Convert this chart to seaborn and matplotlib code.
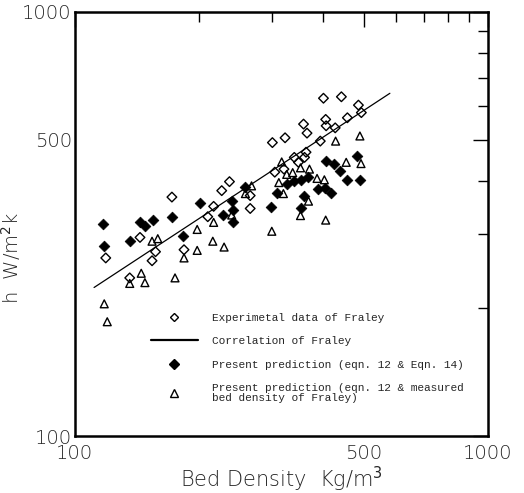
import matplotlib
matplotlib.use("Agg")
import matplotlib.pyplot as plt
import matplotlib.ticker as mticker
from matplotlib.lines import Line2D
import seaborn as sns

# Experimental data of Fraley (open diamonds)
exp_density = [400, 442, 486, 494, 457, 405, 406, 427, 358, 365, 323, 301, 393, 363, 360, 348,
               340, 305, 321, 237, 227, 266, 266, 172, 217, 210, 144, 119, 157, 154, 184, 136]
exp_h = [626, 631, 603, 579, 563, 558, 539, 533, 544, 518, 505, 492, 496, 467, 454, 442,
         454, 419, 426, 398, 379, 369, 344, 366, 348, 329, 294, 263, 272, 259, 275, 236]

# Present prediction, eqn. 12 & measured bed density (open triangles)
tri_density = [428, 490, 493, 454, 317, 326, 337, 352, 370, 386, 402, 312, 320, 268, 259, 368, 352,
               405, 300, 240, 217, 198, 216, 230, 198, 184, 159, 154, 145, 148, 136, 175, 118, 120]
tri_h = [496, 510, 439, 442, 443, 414, 418, 429, 426, 405, 402, 396, 373, 389, 373, 358, 331,
         323, 304, 332, 319, 307, 288, 279, 274, 263, 292, 288, 242, 230, 229, 236, 205, 186]

# Present prediction, eqn. 12 & eqn. 14 (filled diamonds)
pred_density = [405, 424, 439, 482, 457, 489, 368, 352, 339, 327, 389, 403, 416, 309, 359, 259,
                298, 352, 240, 242, 242, 229, 201, 183, 172, 155, 148, 144, 136, 117, 118]
pred_h = [445, 439, 421, 458, 402, 402, 408, 402, 399, 394, 382, 385, 375, 374, 368, 387,
          347, 344, 358, 342, 319, 332, 355, 297, 329, 324, 312, 320, 289, 316, 281]

# Correlation of Fraley (end points)
corr_density = [111.5, 579]
corr_h = [224, 643]

major_ticks = [100, 500, 1000]
minor_ticks = [200, 300, 400, 600, 700, 800, 900]
tick_labels = ["100", "500", "1000"]

sns.set_style("white")
plt.rcParams["font.family"] = ["DejaVu Sans"]

fig = plt.figure(figsize=(5.24, 4.93), dpi=100)
ax = fig.add_axes([0.1422, 0.1156, 0.7891, 0.8601])

sns.lineplot(x=corr_density, y=corr_h, color="black", linewidth=0.9, ax=ax)
sns.scatterplot(x=exp_density, y=exp_h, marker="D", s=24, facecolor="none",
                edgecolor="black", linewidth=1.0, ax=ax)
sns.scatterplot(x=pred_density, y=pred_h, marker="D", s=30, color="black",
                edgecolor="black", linewidth=0.5, ax=ax)
sns.scatterplot(x=tri_density, y=tri_h, marker="^", s=32, facecolor="none",
                edgecolor="black", linewidth=1.0, ax=ax)

ax.set_xscale("log")
ax.set_yscale("log")
ax.set_xlim(100, 1000)
ax.set_ylim(100, 1000)

for axis in [ax.xaxis, ax.yaxis]:
    axis.set_major_locator(mticker.FixedLocator(major_ticks))
    axis.set_major_formatter(mticker.FixedFormatter(tick_labels))
    axis.set_minor_locator(mticker.FixedLocator(minor_ticks))
    axis.set_minor_formatter(mticker.NullFormatter())

ax.tick_params(which="both", direction="in", top=True, right=True, color="black")
ax.tick_params(which="major", length=11, width=1.0, labelsize=14)
ax.tick_params(which="minor", length=7, width=1.0)
ax.tick_params(axis="y", which="major", pad=2)
ax.tick_params(axis="x", which="major", pad=6)
for lab in ax.get_xticklabels() + ax.get_yticklabels():
    lab.set_fontweight("light")
for sp in ax.spines.values():
    sp.set_linewidth(1.8)
    sp.set_color("black")

ax.set_xlabel("Bed Density  Kg/m$^3$", fontsize=15, fontweight="light")
ax.set_ylabel("h  W/m$^2$k", fontsize=14, fontweight="light")
ax.xaxis.set_label_coords(0.5, -0.069)
ax.yaxis.set_label_coords(-0.125, 0.42)

handles = [
    Line2D([], [], marker="D", markersize=4.5, markerfacecolor="none",
           markeredgecolor="black", linestyle="none"),
    Line2D([], [], color="black", linewidth=1.6),
    Line2D([], [], marker="D", markersize=5, color="black", linestyle="none"),
    Line2D([], [], marker="^", markersize=5.5, markerfacecolor="none",
           markeredgecolor="black", linestyle="none"),
]
labels = [
    "Experimetal data of Fraley",
    "Correlation of Fraley",
    "Present prediction (eqn. 12 & Eqn. 14)",
    "Present prediction (eqn. 12 & measured\nbed density of Fraley)",
]
leg = ax.legend(handles, labels, loc="upper left", bbox_to_anchor=(0.185, 0.29),
                frameon=False, borderpad=0, borderaxespad=0, handlelength=4.2,
                handletextpad=1.3, labelspacing=1.2,
                prop={"family": "Liberation Mono", "size": 8})
for t in leg.get_texts():
    t.set_linespacing(0.95)

fig.savefig("out.png", dpi=100)
